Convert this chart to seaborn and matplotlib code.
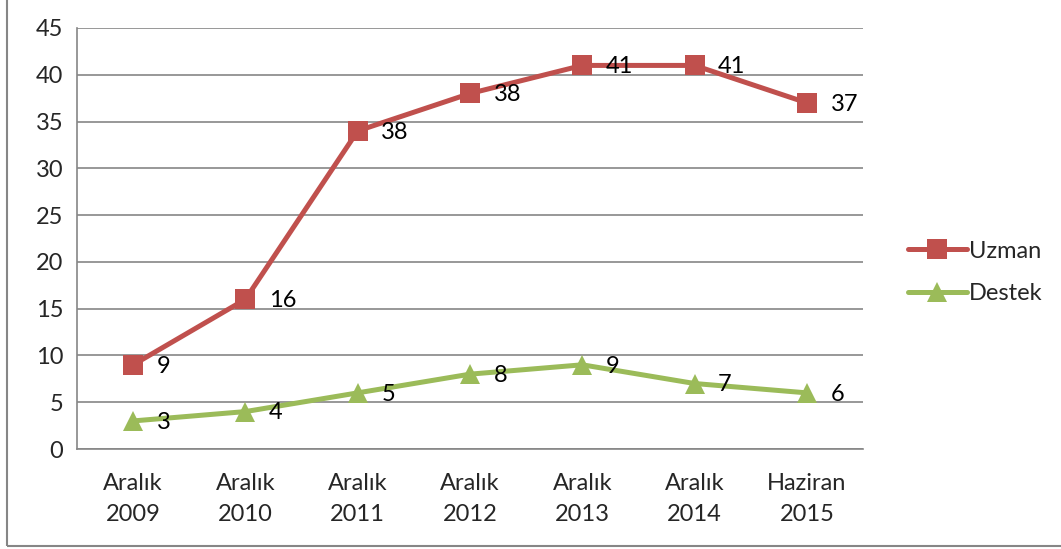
import pandas as pd
import numpy as np
import matplotlib.pyplot as plt
import seaborn as sns
from matplotlib.patches import Rectangle

# Chart data
periods = ["Aralık\n2009", "Aralık\n2010", "Aralık\n2011", "Aralık\n2012",
           "Aralık\n2013", "Aralık\n2014", "Haziran\n2015"]
uzman = [9, 16, 34, 38, 41, 41, 37]
uzman_labels = ["9", "16", "38", "38", "41", "41", "37"]
destek = [3, 4, 6, 8, 9, 7, 6]
destek_labels = ["3", "4", "5", "8", "9", "7", "6"]
series_names = ["Uzman", "Destek"]
colors = {"Uzman": "#C0504D", "Destek": "#9BBB59"}
y_ticks = list(range(0, 46, 5))

sns.set_style("white")
plt.rcParams['font.family'] = ['Lato', 'DejaVu Sans']
FS = 17

df = pd.DataFrame({
    "period": periods * 2,
    "value": uzman + destek,
    "series": ["Uzman"] * len(periods) + ["Destek"] * len(periods),
})

fig = plt.figure(figsize=(10.61, 5.49), dpi=100)
ax = fig.add_axes([77 / 1061, 1 - 449 / 549, (863 - 77) / 1061, (449 - 28) / 549])

sns.lineplot(data=df, x="period", y="value", hue="series", style="series",
             hue_order=series_names, style_order=series_names,
             palette=colors, markers={"Uzman": "s", "Destek": "^"}, dashes=False,
             linewidth=3.6, markersize=14, markeredgewidth=0, sort=False, ax=ax)

# data labels
for vals, labs in [(uzman, uzman_labels), (destek, destek_labels)]:
    for i, (v, t) in enumerate(zip(vals, labs)):
        ax.annotate(t, (i, v), xytext=(17, -1), textcoords="offset points",
                    ha="left", va="center", fontsize=FS, color="black")

ax.set_xlim(-0.5, len(periods) - 0.5)
ax.set_ylim(0, 45)
ax.set_yticks(y_ticks)
ax.set_xticks(range(len(periods)))
ax.set_xticklabels(periods, fontsize=FS, linespacing=1.6)
ax.set_xticks(np.arange(-0.5, len(periods), 1), minor=True)
ax.tick_params(axis="x", which="major", length=0, pad=17)
ax.tick_params(axis="x", which="minor", length=7, color="#868686", width=1.2)
ax.tick_params(axis="y", length=6, color="#868686", width=1.2, labelsize=FS, pad=4)
ax.set_xlabel("")
ax.set_ylabel("")
ax.yaxis.grid(True, color="#868686", linewidth=1.2)
ax.set_axisbelow(True)
for side in ["top", "right"]:
    ax.spines[side].set_visible(False)
for side in ["left", "bottom"]:
    ax.spines[side].set_color("#868686")
    ax.spines[side].set_linewidth(1.2)

leg = ax.legend(loc="center left", bbox_to_anchor=(1.03, 0.42), frameon=False,
                fontsize=FS, handlelength=2.5, handletextpad=0.1, labelspacing=0.9)

# outer chart border
fig.patches.append(Rectangle((7 / 1061, 3 / 549), 1.1, 1.1, transform=fig.transFigure,
                             fill=False, edgecolor="#868686", linewidth=1.5))

plt.savefig("out.png", dpi=100)
plt.close()
